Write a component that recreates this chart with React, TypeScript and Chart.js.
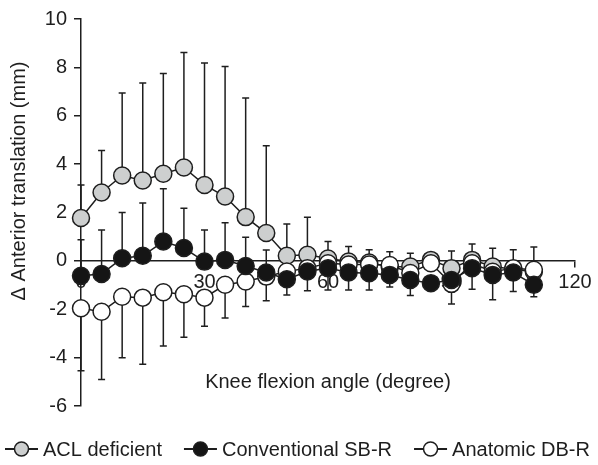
import React, { useEffect, useRef } from "react";
import { Chart, registerables } from "chart.js";

Chart.register(...registerables);

const angles = [0, 5, 10, 15, 20, 25, 30, 35, 40, 45, 50, 55, 60, 65, 70, 75, 80, 85, 90, 95, 100, 105, 110];

const aclDeficient = [1.77, 2.83, 3.53, 3.32, 3.6, 3.86, 3.14, 2.66, 1.81, 1.15, 0.21, 0.25, 0.1, -0.03, -0.07, -0.25, -0.23, 0.04, -0.3, 0.04, -0.23, -0.35, -0.45];
const aclErrUp = [1.37, 1.73, 3.41, 4.03, 4.15, 4.76, 5.04, 5.38, 4.92, 3.61, 1.31, 1.55, 0.7, 0.62, 0.53, 0.63, 0.55, 0.16, 0.71, 0.66, 0.75, 0.81, 1.02];

const conventionalSBR = [-0.62, -0.54, 0.11, 0.21, 0.8, 0.53, -0.03, 0.04, -0.21, -0.48, -0.76, -0.44, -0.3, -0.48, -0.51, -0.58, -0.79, -0.92, -0.79, -0.3, -0.58, -0.48, -0.99];
const sbrErrUp = [1.49, 1.82, 1.89, 2.18, 2.18, 1.65, 1.31, 1.54, 1.19, 0.93, 0, 0, 0, 0, 0, 0, 0, 0, 0, 0, 0, 0, 0];
const sbrErrDown = [0, 0, 0, 0, 0, 0, 0, 0, 0, 0, 0.65, 0.8, 0.9, 0.72, 0.69, 0.5, 0.64, 0.2, 0.99, 0.87, 1.03, 0.79, 0.49];

const anatomicDBR = [-1.96, -2.1, -1.48, -1.52, -1.3, -1.38, -1.52, -0.99, -0.85, -0.65, -0.44, -0.3, -0.1, -0.15, -0.15, -0.17, -0.5, -0.1, -0.95, -0.1, -0.45, -0.3, -0.37];
const dbrErrDown = [2.58, 2.8, 2.52, 2.75, 2.22, 1.78, 1.18, 1.37, 1.04, 1.0, 0, 0, 0, 0, 0, 0, 0, 0, 0, 0, 0, 0, 0];

const seriesNames = ["ACL deficient", "Conventional SB-R", "Anatomic DB-R"];
const seriesFills = ["#cdcfcf", "#151515", "#ffffff"];

const yTicks = [-6, -4, -2, 0, 2, 4, 6, 8, 10];
const xTicks = [0, 30, 60, 90, 120];

const xTitle = "Knee flexion angle (degree)";
const yTitle = "\u0394 Anterior translation (mm)";

const FONT = "'Liberation Sans', Arial, sans-serif";
const INK = "#1e1e1e";

const errorBarPlugin = {
  id: "errorBars",
  beforeDatasetsDraw(chart: any) {
    const ctx = chart.ctx;
    const ys = chart.scales.y;
    ctx.save();
    ctx.strokeStyle = INK;
    ctx.lineWidth = 1.5;
    chart.data.datasets.forEach((ds: any, i: number) => {
      const meta = chart.getDatasetMeta(i);
      meta.data.forEach((pt: any, j: number) => {
        const v = ds.data[j].y;
        const pairs: [number, number][] = [
          [(ds.errUp && ds.errUp[j]) || 0, 1],
          [(ds.errDown && ds.errDown[j]) || 0, -1],
        ];
        pairs.forEach(([e, s]) => {
          if (!e) return;
          const y1 = ys.getPixelForValue(v + s * e);
          ctx.beginPath();
          ctx.moveTo(pt.x, pt.y);
          ctx.lineTo(pt.x, y1);
          ctx.moveTo(pt.x - 3.5, y1);
          ctx.lineTo(pt.x + 3.5, y1);
          ctx.stroke();
        });
      });
    });
    ctx.restore();
  },
};

const annotationsPlugin = {
  id: "extras",
  afterDraw(chart: any) {
    const ctx = chart.ctx;
    const area = chart.chartArea;
    ctx.save();
    ctx.fillStyle = INK;
    ctx.font = `20px ${FONT}`;
    ctx.textAlign = "center";
    ctx.textBaseline = "middle";
    ctx.fillText(xTitle, (area.left + area.right) / 2, 382);

    // y title
    ctx.save();
    ctx.translate(19, 181);
    ctx.rotate(-Math.PI / 2);
    ctx.fillText(yTitle, 0, 0);
    ctx.restore();

    // legend
    const ly = 449;
    const gap = 22;
    let x0 = 5;
    ctx.textAlign = "left";
    seriesNames.forEach((name, i) => {
      ctx.strokeStyle = INK;
      ctx.lineWidth = 2;
      ctx.beginPath();
      ctx.moveTo(x0, ly);
      ctx.lineTo(x0 + 33, ly);
      ctx.stroke();
      ctx.beginPath();
      ctx.arc(x0 + 16.5, ly, 7, 0, Math.PI * 2);
      ctx.fillStyle = seriesFills[i];
      ctx.fill();
      ctx.lineWidth = 1.5;
      ctx.stroke();
      ctx.fillStyle = INK;
      ctx.fillText(name, x0 + 38, ly + 1);
      x0 = x0 + 38 + ctx.measureText(name).width + gap;
    });
    ctx.restore();
  },
};

function makeDataset(label: string, values: number[], fill: string, order: number, errUp?: number[], errDown?: number[]) {
  return {
    label,
    data: angles.map((a, i) => ({ x: a, y: values[i] })),
    borderColor: INK,
    borderWidth: 1.5,
    pointRadius: 8.5,
    pointBorderWidth: 1.5,
    pointBackgroundColor: fill,
    pointBorderColor: INK,
    backgroundColor: fill,
    tension: 0,
    order,
    errUp,
    errDown,
    clip: false as any,
  };
}

export default function App() {
  const canvasRef = useRef<HTMLCanvasElement | null>(null);

  useEffect(() => {
    if (!canvasRef.current) return;
    const chart = new Chart(canvasRef.current, {
      type: "line",
      data: {
        datasets: [
          makeDataset(seriesNames[0], aclDeficient, seriesFills[0], 3, aclErrUp, undefined),
          makeDataset(seriesNames[1], conventionalSBR, seriesFills[1], 1, sbrErrUp, sbrErrDown),
          makeDataset(seriesNames[2], anatomicDBR, seriesFills[2], 2, undefined, dbrErrDown),
        ] as any,
      },
      options: {
        responsive: false,
        animation: false,
        devicePixelRatio: 1,
        layout: { padding: { top: 19, left: 0, right: 23, bottom: 59 } },
        plugins: { legend: { display: false }, tooltip: { enabled: false } },
        scales: {
          x: {
            type: "linear",
            position: { y: 0 } as any,
            min: 0,
            max: 120,
            afterBuildTicks: (s: any) => {
              s.ticks = xTicks.map((v) => ({ value: v }));
            },
            ticks: { color: INK, font: { family: FONT, size: 20 }, padding: 4, maxRotation: 0 },
            grid: { drawOnChartArea: false, drawTicks: true, tickLength: 6, color: INK, lineWidth: 1.5 },
            border: { display: true, color: INK, width: 1.5 },
          },
          y: {
            type: "linear",
            min: -6,
            max: 10,
            afterBuildTicks: (s: any) => {
              s.ticks = yTicks.map((v) => ({ value: v }));
            },
            afterFit: (s: any) => {
              s.width = 81;
            },
            ticks: { color: INK, font: { family: FONT, size: 20 }, padding: 7 },
            grid: { drawOnChartArea: false, drawTicks: true, tickLength: 7, color: INK, lineWidth: 1.5 },
            border: { display: true, color: INK, width: 1.5 },
          },
        },
      } as any,
      plugins: [errorBarPlugin, annotationsPlugin],
    });
    return () => chart.destroy();
  }, []);

  return (
    <div style={{ position: "fixed", left: 0, top: 0, width: 598, height: 465, background: "#fff" }}>
      <canvas ref={canvasRef} width={598} height={465} style={{ display: "block" }} />
    </div>
  );
}
